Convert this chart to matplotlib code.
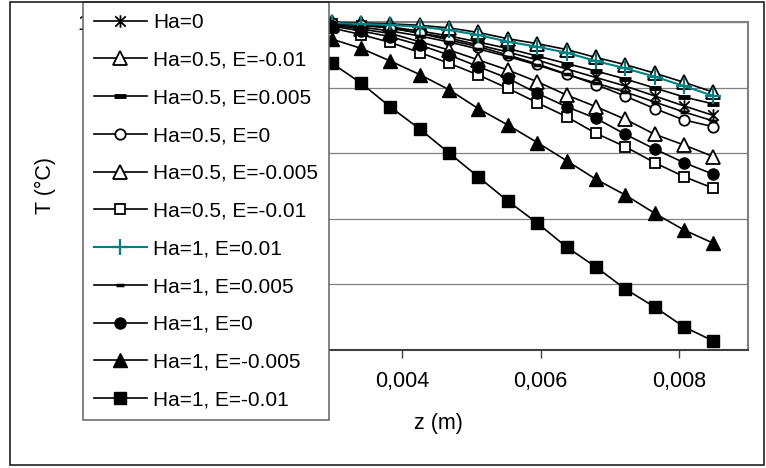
import matplotlib
matplotlib.use("Agg")
import matplotlib.pyplot as plt
from matplotlib.path import Path
from matplotlib.patches import Rectangle
from matplotlib.ticker import FuncFormatter, MultipleLocator

plt.rcParams['font.family'] = ['Liberation Sans', 'DejaVu Sans']

# ---------------- data ----------------
z = [i * 0.000425 for i in range(21)]

labels = ["Ha=0", "Ha=0.5, E=-0.01", "Ha=0.5, E=0.005", "Ha=0.5, E=0",
          "Ha=0.5, E=-0.005", "Ha=0.5, E=-0.01", "Ha=1, E=0.01",
          "Ha=1, E=0.005", "Ha=1, E=0", "Ha=1, E=-0.005", "Ha=1, E=-0.01"]

t_ha0 = [100, 100, 100, 100, 99.99, 99.97, 99.93, 99.85, 99.54, 99.09, 98.32,
         97.56, 96.49, 95.43, 94.21, 92.84, 91.54, 90.24, 88.72, 87.20, 85.75]
t_ha05_em001a = [100, 100, 100, 100, 100, 100, 99.98, 99.95, 99.85, 99.7, 99.5,
                 99.1, 98.4, 97.45, 96.7, 95.8, 94.6, 93.5, 92.2, 90.8, 89.3]
t_ha05_e0005 = [100, 100, 100, 100, 100, 99.98, 99.96, 99.92, 99.70, 99.24, 98.63,
                97.87, 96.95, 95.96, 94.82, 93.67, 92.53, 91.31, 89.94, 88.57, 87.5]
t_ha05_e0 = [100, 100, 100, 99.99, 99.97, 99.93, 99.88, 99.8, 99.5, 99.09, 98.28,
             97.26, 96.23, 94.97, 93.60, 92.07, 90.47, 88.69, 86.80, 85.06, 84.04]
t_ha05_em0005 = [100, 100, 100, 99.99, 99.96, 99.9, 99.78, 99.54, 98.93, 98.25, 97.0,
                 95.73, 94.21, 92.68, 90.90, 88.87, 87.09, 85.17, 82.88, 81.25, 79.47]
t_ha05_em001b = [100, 100, 99.99, 99.97, 99.9, 99.75, 99.5, 99.09, 98.09, 96.88, 95.35,
                 93.71, 91.92, 89.89, 87.70, 85.56, 83.03, 80.99, 78.55, 76.42, 74.65]
t_ha1_e001 = [100, 100, 100, 100, 100, 99.98, 99.94, 99.85, 99.7, 99.54, 99.28,
              98.78, 98.02, 97.0, 96.23, 95.32, 94.05, 92.94, 91.66, 90.24, 88.72]
t_ha1_e0005 = [100, 100, 100, 100, 99.99, 99.96, 99.88, 99.62, 99.24, 98.63, 97.87,
               96.95, 95.88, 94.74, 93.45, 92.0, 90.70, 89.33, 87.80, 86.28, 84.91]
t_ha1_e0 = [100, 100, 100, 99.98, 99.94, 99.85, 99.68, 99.39, 98.63, 97.76, 96.49,
            94.97, 93.19, 91.42, 89.13, 87.09, 85.32, 82.88, 80.64, 78.55, 76.78]
t_ha1_em0005 = [100, 100, 99.95, 99.85, 99.6, 99.2, 98.5, 97.41, 95.99, 94.05, 91.99,
                89.68, 86.78, 84.30, 81.63, 78.86, 76.02, 73.63, 70.84, 68.29, 66.27]
t_ha1_em001 = [100, 99.95, 99.8, 99.4, 98.7, 97.6, 96.0, 93.75, 90.7, 87.04, 83.69,
               80.03, 76.37, 72.71, 69.36, 65.70, 62.65, 59.30, 56.55, 53.51, 51.37]

series = [t_ha0, t_ha05_em001a, t_ha05_e0005, t_ha05_e0, t_ha05_em0005, t_ha05_em001b,
          t_ha1_e001, t_ha1_e0005, t_ha1_e0, t_ha1_em0005, t_ha1_em001]

# ---------------- styles ----------------
star = Path([(-1, -1), (1, 1), (-1, 1), (1, -1), (0, -1.2), (0, 1.2)],
            [Path.MOVETO, Path.LINETO, Path.MOVETO, Path.LINETO, Path.MOVETO, Path.LINETO])
teal = '#008080'
W = 'white'
K = 'black'
styles = [
    dict(color=K, marker=star, ms=9, mfc='none', mec=K, mew=1.3),
    dict(color=K, marker='^', ms=9.5, mfc=W, mec=K, mew=1.3),
    dict(color=K, marker='_', ms=9, mec=K, mew=3.5),
    dict(color=K, marker='o', ms=7.5, mfc=W, mec=K, mew=1.3),
    dict(color=K, marker='^', ms=9.5, mfc=W, mec=K, mew=1.3),
    dict(color=K, marker='s', ms=7.5, mfc=W, mec=K, mew=1.3),
    dict(color=teal, marker='+', ms=11, mec=teal, mew=1.6, lw=1.5),
    dict(color=K, marker='_', ms=6, mec=K, mew=2.5),
    dict(color=K, marker='o', ms=8, mfc=K, mec=K, mew=1),
    dict(color=K, marker='^', ms=10, mfc=K, mec=K, mew=1),
    dict(color=K, marker='s', ms=8, mfc=K, mec=K, mew=1),
]

FS = 15.5
LFS = 15
fig = plt.figure(figsize=(7.66, 4.68), dpi=100)
W_PX, H_PX = 766, 468
ax = fig.add_axes([126 / W_PX, 1 - 350 / H_PX, (748 - 126) / W_PX, (350 - 22) / H_PX])

for k, (vals, lab, st) in enumerate(zip(series, labels, styles)):
    st = dict(st)
    lw = st.pop('lw', 1.2)
    ax.plot(z, vals, label=lab, lw=lw, clip_on=False, zorder=3 + k * 0.01, **st)


def xfmt(v, p):
    # labels left of 0.003 sit behind the legend box in the reference
    if v < 0.003:
        return ""
    return ("%g" % round(v, 6)).replace('.', ',')


def yfmt(v, p):
    # only the top label peeks out beside the legend box
    return "%d" % v if v >= 99.5 else ""


ax.set_xlim(0, 0.009)
ax.set_ylim(50, 100)
ax.xaxis.set_major_locator(MultipleLocator(0.002))
ax.yaxis.set_major_locator(MultipleLocator(10))
ax.xaxis.set_major_formatter(FuncFormatter(xfmt))
ax.yaxis.set_major_formatter(FuncFormatter(yfmt))
ax.tick_params(axis='x', direction='out', length=6, width=1, color='#404040',
               labelsize=FS, pad=9)
ax.tick_params(axis='y', length=0, labelsize=FS, pad=9)
ax.grid(axis='y', color='#808080', lw=0.9)
ax.set_axisbelow(True)
for s in ['top', 'right', 'left']:
    ax.spines[s].set_color('#808080')
    ax.spines[s].set_linewidth(1.5)
ax.spines['bottom'].set_color('#404040')
ax.spines['bottom'].set_linewidth(1.5)

ax.set_xlabel("z (m)", fontsize=FS)
ax.xaxis.set_label_coords((438 - 126) / 622, -(423 - 350) / 328)
ax.xaxis.label.set_va('center')
ax.set_ylabel("T (°C)", fontsize=FS)
ax.yaxis.set_label_coords((45 - 126) / 622, 0.5)
ax.yaxis.label.set_va('center')

leg = ax.legend(loc='upper left', bbox_to_anchor=(83 / W_PX, 1 - 2 / H_PX),
                bbox_transform=fig.transFigure, borderaxespad=0, fontsize=LFS,
                handlelength=2.55, handletextpad=0.28, borderpad=0.52,
                labelspacing=0.90, fancybox=False, framealpha=1,
                edgecolor='#606060', numpoints=1)
leg.get_frame().set_linewidth(1.1)
leg.set_zorder(10)

fig.patches.append(Rectangle((10 / W_PX, 3 / H_PX), (764 - 10) / W_PX, (466 - 3) / H_PX,
                             transform=fig.transFigure, fill=False,
                             edgecolor='#202020', lw=1.2, zorder=0))

fig.savefig("out.png", dpi=100)
